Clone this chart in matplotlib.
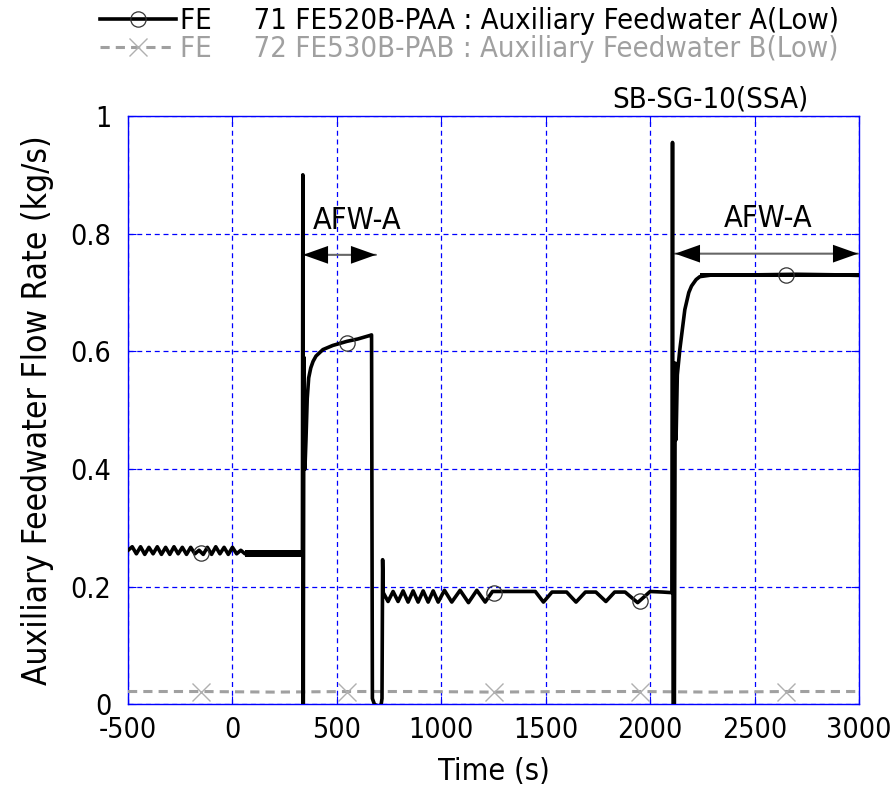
import matplotlib.pyplot as plt
from matplotlib.lines import Line2D

# --- data ---
# FE71 FE520B-PAA : auxiliary feedwater A (low)
a_time = [-500, -480, -460, -440, -420, -400, -380, -360, -340, -320, -300,
          -280, -260, -240, -220, -200, -180, -160, -140, -120, -100, -80,
          -60, -40, -20, 0, 20, 40, 60, 335,
          337, 339, 342, 347, 352, 358, 365, 375, 386, 400, 433, 480, 548,
          600, 658, 666, 670, 680, 700, 712, 716, 719, 722,
          745, 769, 793, 817, 841, 865, 889, 913, 937, 961, 985, 1015,
          1050, 1090, 1130, 1170, 1210, 1245, 1300, 1450,
          1489, 1530, 1600, 1645, 1690, 1740, 1788, 1830, 1880, 1940, 2000,
          2060, 2104,
          2107, 2110, 2116, 2120, 2124, 2130, 2142, 2166, 2185, 2198, 2220,
          2238, 2300, 2500, 2700, 2900, 3000]
a_flow = [0.262, 0.268, 0.256, 0.268, 0.255, 0.267, 0.256, 0.268, 0.255,
          0.267, 0.255, 0.268, 0.256, 0.267, 0.255, 0.267, 0.256, 0.262,
          0.255, 0.267, 0.255, 0.268, 0.256, 0.267, 0.255, 0.267, 0.256,
          0.262, 0.256, 0.254,
          0.900, 0.000, 0.590, 0.400, 0.450, 0.520, 0.555, 0.572, 0.583,
          0.592, 0.603, 0.610, 0.617, 0.621, 0.627, 0.628, 0.010, 0.000,
          -0.003, 0.000, 0.010, 0.246, 0.190,
          0.175, 0.192, 0.175, 0.193, 0.174, 0.193, 0.174, 0.193, 0.174,
          0.193, 0.174, 0.194, 0.174, 0.194, 0.173, 0.194, 0.174, 0.192,
          0.192, 0.192,
          0.174, 0.191, 0.191, 0.174, 0.191, 0.191, 0.175, 0.191, 0.191,
          0.173, 0.192, 0.191, 0.190,
          0.955, 0.000, 0.000, 0.580, 0.450, 0.560, 0.603, 0.671, 0.700,
          0.711, 0.722, 0.727, 0.730, 0.730, 0.731, 0.730, 0.729]
# noisy stretches of A: (start, end, low, high)
a_noise = [(60, 335, 0.250, 0.262), (2240, 3000, 0.727, 0.733)]
a_mark_time = [-150, 550, 1250, 1950, 2650]
a_mark_flow = [0.258, 0.615, 0.190, 0.175, 0.729]

# FE72 FE530B-PAB : auxiliary feedwater B (low)
b_time = [-500, -150, 200, 550, 900, 1250, 1600, 1950, 2300, 2650, 3000]
b_flow = [0.022, 0.022, 0.021, 0.022, 0.022, 0.021, 0.022, 0.022, 0.021,
          0.022, 0.022]
b_mark_time = [-150, 550, 1250, 1950, 2650]
b_mark_flow = [0.022, 0.022, 0.022, 0.022, 0.022]

x_ticks = [-500, 0, 500, 1000, 1500, 2000, 2500, 3000]
y_ticks = [0, 0.2, 0.4, 0.6, 0.8, 1]
y_labels = ['0', '0.2', '0.4', '0.6', '0.8', '1']

label_a = 'FE     71 FE520B-PAA : Auxiliary Feedwater A(Low)'
label_b = 'FE     72 FE530B-PAB : Auxiliary Feedwater B(Low)'

plt.rcParams['font.family'] = ['DejaVu Sans']
plt.rcParams['font.stretch'] = 'condensed'
plt.rcParams['axes.unicode_minus'] = False

fig = plt.figure(figsize=(8.91, 7.91), dpi=100)
ax = fig.add_axes([0.1437, 0.1094, 0.8204, 0.744])

gray = '#a0a0a0'
blue = '#0000ff'

ax.plot(b_time, b_flow, color=gray, lw=2.2, dashes=(3, 2), zorder=3)
ax.plot(b_mark_time, b_mark_flow, ls='none', marker='x', color='#b0b0b0',
        ms=13, mew=1.0, zorder=4)

ax.plot(a_time, a_flow, color='black', lw=2.6, zorder=5)
for t0, t1, lo, hi in a_noise:
    ax.fill_between([t0, t1], [lo, lo], [hi, hi], color='black', lw=0, zorder=5)
ax.plot(a_mark_time, a_mark_flow, ls='none', marker='o', mfc='none',
        mec='#333333', ms=11, mew=0.9, zorder=6)

ax.set_xlim(-500, 3000)
ax.set_ylim(0, 1)
ax.set_xticks(x_ticks)
ax.set_yticks(y_ticks)
ax.set_yticklabels(y_labels)
ax.grid(True, color=blue, lw=0.9, ls=(0, (4, 3)))
for s in ax.spines.values():
    s.set_color(blue)
    s.set_linewidth(1.0)
ax.tick_params(direction='in', length=6, color=blue, top=True, right=True,
               labelsize=20.5)
ax.tick_params(axis='x', pad=8)
ax.tick_params(axis='y', pad=12)

ax.set_xlabel('Time (s)', fontsize=22, labelpad=10)
ax.set_ylabel('Auxiliary Feedwater Flow Rate (kg/s)', fontsize=24,
              labelpad=12)

# AFW-A operating spans: gray shaft, black heads
for t0, t1, y in [(338, 687, 0.764), (2119, 2995, 0.766)]:
    ax.annotate('', xy=(t0, y), xytext=(t1, y),
                arrowprops=dict(arrowstyle='-', color='#666666', lw=1.5,
                                shrinkA=0, shrinkB=0))
    ax.annotate('', xy=(t0, y), xytext=(t1, y),
                arrowprops=dict(arrowstyle='<|-|>,head_length=0.9,head_width=0.32',
                                color='black', lw=0, mutation_scale=20,
                                shrinkA=0, shrinkB=0))
ax.text(596, 0.823, 'AFW-A', fontsize=22, ha='center', va='center')
ax.text(2564, 0.825, 'AFW-A', fontsize=22, ha='center', va='center')

fig.text(0.907, 0.874, 'SB-SG-10(SSA)', fontsize=21, ha='right', va='center')

handles = [
    Line2D([], [], color='black', lw=2.6, marker='o', mfc='none',
           mec='#333333', ms=11, mew=0.9),
    Line2D([], [], color=gray, lw=2.2, dashes=(3, 2), marker='x',
           mec='#b0b0b0', ms=13, mew=1.0),
]
leg = fig.legend(handles, [label_a, label_b], loc='upper left',
                 bbox_to_anchor=(0.112, 0.991), frameon=False, fontsize=21,
                 handlelength=2.6, handletextpad=0.15, labelspacing=0.0,
                 borderpad=0, borderaxespad=0)
leg.get_texts()[1].set_color(gray)

fig.savefig('out.png', dpi=100)
